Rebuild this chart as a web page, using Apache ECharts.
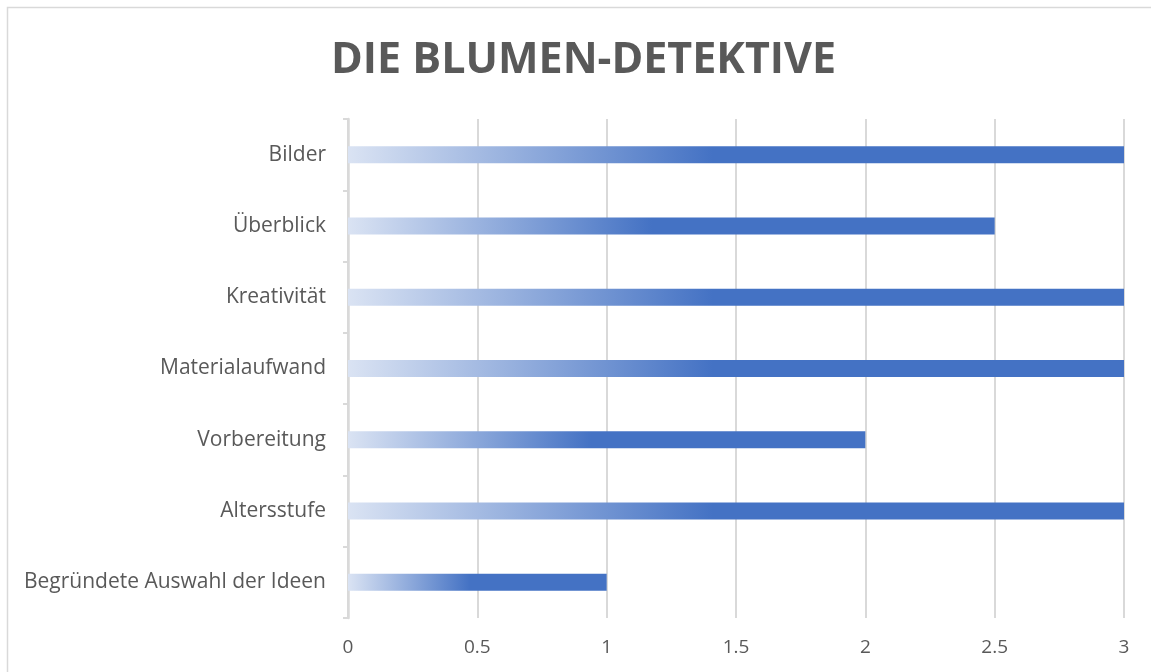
<!DOCTYPE html>
<html>
<head>
<meta charset="utf-8">
<script src="https://cdn.jsdelivr.net/npm/echarts@6/dist/echarts.min.js"></script>
<style>
html,body{margin:0;padding:0;background:#fff;}
#chart{width:1151px;height:672px;}
</style>
</head>
<body>
<div id="chart"></div>
<script>
const title = 'DIE BLUMEN-DETEKTIVE';
const categories = ['Bilder', 'Überblick', 'Kreativität', 'Materialaufwand', 'Vorbereitung', 'Altersstufe', 'Begründete Auswahl der Ideen'];
const values = [3, 2.5, 3, 3, 2, 3, 1];
const xTicks = { min: 0, max: 3, interval: 0.5 };

const chart = echarts.init(document.getElementById('chart'));
const font = '"Open Sans", "Noto Sans", sans-serif';
chart.setOption({
  animation: false,
  backgroundColor: '#fff',
  graphic: [{
    type: 'rect',
    shape: { x: 7.5, y: 7.5, width: 1200, height: 720 },
    style: { fill: 'none', stroke: '#d9d9d9', lineWidth: 1.5 },
    silent: true
  }],
  title: {
    text: title,
    left: 326,
    top: 34,
    textStyle: { fontFamily: font, fontWeight: 'bold', fontSize: 43, color: '#595959' }
  },
  grid: { left: 348, right: 27, top: 119, bottom: 54, containLabel: false },
  xAxis: {
    type: 'value',
    min: xTicks.min, max: xTicks.max, interval: xTicks.interval,
    axisLine: { show: false },
    axisTick: { show: false },
    splitLine: { lineStyle: { color: '#d9d9d9', width: 2 } },
    axisLabel: { color: '#595959', fontFamily: font, fontSize: 19, margin: 20 }
  },
  yAxis: {
    type: 'category',
    inverse: true,
    data: categories,
    axisLine: { lineStyle: { color: '#d9d9d9', width: 2.5 } },
    axisTick: { show: true, length: 5, lineStyle: { color: '#d9d9d9', width: 2 } },
    axisLabel: { color: '#595959', fontFamily: font, fontSize: 21, margin: 22, padding: [3, 0, 0, 0] }
  },
  series: [{
    type: 'bar',
    data: values,
    barWidth: 17,
    itemStyle: {
      color: {
        type: 'linear', x: 0, y: 0, x2: 1, y2: 0,
        colorStops: [
          { offset: 0, color: '#dae3f3' },
          { offset: 0.47, color: '#4472c4' },
          { offset: 1, color: '#4472c4' }
        ]
      }
    }
  }]
});
</script>
</body>
</html>
